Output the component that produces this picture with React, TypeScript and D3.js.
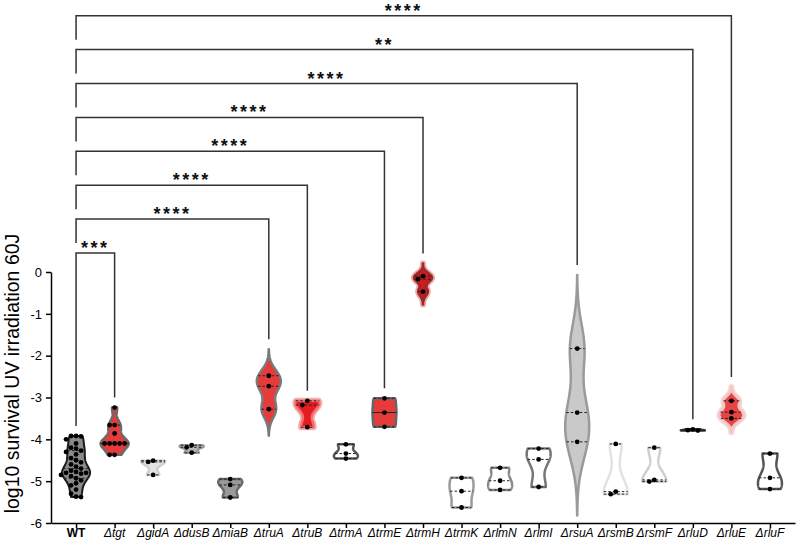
import * as d3 from "d3";
import { useEffect, useRef } from "react";

// strains on the x axis
const strains = ["WT", "tgt", "gidA", "dusB", "miaB", "truA", "truB", "trmA", "trmE", "trmH",
  "trmK", "rlmN", "rlmI", "rsuA", "rsmB", "rsmF", "rluD", "rluE", "rluF"];

// log10 survival values
const wt = [-3.92, -3.92, -3.93, -4.0, -4.1, -4.2, -4.22, -4.27, -4.3, -4.36, -4.45, -4.5, -4.55,
  -4.6, -4.65, -4.7, -4.75, -4.78, -4.8, -4.8, -4.82, -4.85, -4.88, -4.93, -4.98, -5.05, -5.1,
  -5.2, -5.3, -5.37, -5.38];
const tgt = [-3.24, -3.66, -3.66, -3.86, -4.1, -4.1, -4.1, -4.1, -4.1, -4.37, -4.37];
const gidA = [-4.51, -4.54, -4.85];
const dusB = [-4.14, -4.19, -4.32];
const miaB = [-4.95, -5.09, -5.39];
const truA = [-2.48, -2.73, -3.28];
const truB = [-3.08, -3.18, -3.71];
const trmA = [-4.12, -4.34, -4.46];
const trmE = [-3.02, -3.36, -3.7];
const trmH = [-0.1, -0.17, -0.47];
const trmK = [-4.92, -5.24, -5.63];
const rlmN = [-4.68, -4.99, -5.21];
const rlmI = [-4.22, -4.48, -5.14];
const rsuA = [-1.83, -3.36, -4.06];
const rsmB = [-4.11, -5.25, -5.31];
const rsmF = [-4.2, -4.97, -5.01];
const rluD = [-3.76, -3.78, -3.79];
const rluE = [-3.08, -3.35, -3.5];
const rluF = [-4.34, -4.92, -5.19];

const values = [wt, tgt, gidA, dusB, miaB, truA, truB, trmA, trmE, trmH, trmK, rlmN, rlmI,
  rsuA, rsmB, rsmF, rluD, rluE, rluF];

// violins whose density tails are not cut at the data range
const fullTails = ["truA", "trmH", "rsuA", "rluE"];

const yTicks = [0, -1, -2, -3, -4, -5, -6];

// comparisons against WT, bottom bracket first
const compared = ["tgt", "truA", "truB", "trmE", "trmH", "rsuA", "rluD", "rluE"];
const stars = ["***", "****", "****", "****", "****", "****", "**", "****"];

const fills: Record<string, string> = {
  WT: "#8a8a8a", tgt: "#e63b3b", gidA: "#e4e4e4", dusB: "#b8b8b8", miaB: "#9a9a9a",
  truA: "#e63b3b", truB: "#e41c22", trmA: "#ffffff", trmE: "#e63b3b", trmH: "#cc1c1c",
  trmK: "#ffffff", rlmN: "#ffffff", rlmI: "#ffffff", rsuA: "#c9c9c9", rsmB: "#ffffff",
  rsmF: "#ffffff", rluD: "#8a8a8a", rluE: "#e84444", rluF: "#ffffff",
};
const strokes: Record<string, string> = {
  WT: "#1a1a1a", tgt: "#6a6a6a", gidA: "#d0d0d0", dusB: "#9a9a9a", miaB: "#6a6a6a",
  truA: "#7a7a7a", truB: "#f07070", trmA: "#555555", trmE: "#666666", trmH: "#9a2a2a",
  trmK: "#9a9a9a", rlmN: "#8a8a8a", rlmI: "#777777", rsuA: "#9a9a9a", rsmB: "#e2e2e2",
  rsmF: "#cfcfcf", rluD: "#333333", rluE: "#f2c4c4", rluF: "#555555",
};
const halos: Record<string, string> = { trmH: "#f2a8a8", rluE: "#f6d6d6", truB: "#f6b0b0" };

type Violin = { lo: number; hi: number; h: number; vals: number[] };

function kde(v: Violin, t: number) {
  return d3.sum(v.vals, (x) => Math.exp(-0.5 * ((t - x) / v.h) ** 2));
}

function makeViolin(vals: number[], full: boolean): Violin {
  const sd = d3.deviation(vals) ?? 0;
  const h = Math.max(0.64 * sd * Math.pow(vals.length, -0.2), 0.005);
  const lo = (d3.min(vals) as number) - (full ? 3 * h : 0);
  const hi = (d3.max(vals) as number) + (full ? 3 * h : 0);
  return { lo, hi, h, vals };
}

// quartiles, (n+1)p method
function quantile(vals: number[], p: number) {
  const s = [...vals].sort(d3.ascending);
  const pos = p * (s.length + 1);
  if (pos <= 1) return s[0];
  if (pos >= s.length) return s[s.length - 1];
  const i = Math.floor(pos);
  return s[i - 1] + (pos - i) * (s[i] - s[i - 1]);
}

export default function App() {
  const svgRef = useRef<SVGSVGElement | null>(null);

  useEffect(() => {
    const svg = d3.select(svgRef.current);
    const width = 798;
    const height = 540;
    const margin = { top: 272, right: 3, bottom: 17, left: 51 };
    const font = "'Liberation Sans', Arial, sans-serif";

    svg.selectAll("*").remove();
    svg.attr("width", width).attr("height", height);

    const x = d3
      .scalePoint<string>()
      .domain(strains)
      .range([margin.left, width - margin.right])
      .padding(0.65);

    const y = d3
      .scaleLinear()
      .domain([-6, 0])
      .range([height - margin.bottom, margin.top]);

    const violins = strains.map((s, i) => makeViolin(values[i], fullTails.includes(s)));

    // violins
    strains.forEach((s, i) => {
      const v = violins[i];
      const cx = x(s) as number;
      const halfWidth = s === "WT" || s === "tgt" ? 14 : s === "trmH" ? 9 : 12;
      const steps = 90;
      const ys = d3.range(steps + 1).map((k) => v.lo + ((v.hi - v.lo) * k) / steps);
      const dens = ys.map((t) => kde(v, t));
      const m = d3.max(dens) as number;
      const w = (t: number) => (kde(v, t) / m) * halfWidth;
      const area = d3
        .area<number>()
        .x0((t) => cx - w(t))
        .x1((t) => cx + w(t))
        .y((t) => y(t));

      const g = svg.append("g");
      if (halos[s]) {
        g.append("path")
          .attr("d", area(ys))
          .attr("fill", "none")
          .attr("stroke", halos[s])
          .attr("stroke-width", 6)
          .attr("stroke-linejoin", "round");
      }
      g.append("path")
        .attr("d", area(ys))
        .attr("fill", fills[s])
        .attr("stroke", strokes[s])
        .attr("stroke-width", s === "WT" ? 2 : 2.5)
        .attr("stroke-linejoin", "round");

      // median and quartiles
      [0.25, 0.5, 0.75].forEach((p) => {
        const q = quantile(v.vals, p);
        g.append("line")
          .attr("x1", cx - w(q))
          .attr("x2", cx + w(q))
          .attr("y1", y(q))
          .attr("y2", y(q))
          .attr("stroke", "#222")
          .attr("stroke-width", 1)
          .attr("stroke-dasharray", s === "trmE" && p === 0.5 ? null : "2.5,2");
      });

      // points, spread sideways so they don't overlap
      const placed: [number, number][] = [];
      [...v.vals].sort(d3.descending).forEach((val) => {
        const py = y(val);
        for (let k = 0; k < 12; k++) {
          const off = (k % 2 === 0 ? 1 : -1) * Math.ceil(k / 2) * 5;
          const px = cx + off;
          if (placed.every(([ax, ay]) => Math.hypot(ax - px, ay - py) >= 4.6)) {
            placed.push([px, py]);
            break;
          }
        }
      });
      g.selectAll("circle")
        .data(placed)
        .enter()
        .append("circle")
        .attr("cx", (d) => d[0])
        .attr("cy", (d) => d[1])
        .attr("r", 2.4)
        .attr("fill", "#000");
    });

    // axes
    const yAxis = svg
      .append("g")
      .attr("transform", `translate(${margin.left},0)`)
      .call(
        d3
          .axisLeft(y)
          .tickValues(yTicks)
          .tickSize(5)
          .tickSizeOuter(0)
          .tickPadding(4)
          .tickFormat((d) => String(d))
      );
    yAxis.selectAll("path, line").attr("stroke", "#000").attr("stroke-width", 1.5);
    yAxis.selectAll("text").attr("font-family", font).attr("font-size", 13).attr("fill", "#000");

    const xAxis = svg
      .append("g")
      .attr("transform", `translate(0,${height - margin.bottom})`)
      .call(d3.axisBottom(x).tickSize(5).tickSizeOuter(0).tickFormat(() => ""));
    xAxis.selectAll("path, line").attr("stroke", "#000").attr("stroke-width", 1.5);

    svg
      .selectAll(".x-label")
      .data(strains)
      .enter()
      .append("text")
      .attr("class", "x-label")
      .attr("x", (d) => x(d) as number)
      .attr("y", height - 3)
      .attr("text-anchor", "middle")
      .attr("font-family", font)
      .attr("font-size", 12)
      .attr("font-weight", (d) => (d === "WT" ? "bold" : "normal"))
      .attr("font-style", (d) => (d === "WT" ? "normal" : "italic"))
      .attr("fill", "#000")
      .text((d) => (d === "WT" ? d : "\u0394" + d));

    svg
      .append("text")
      .attr("transform", `translate(19,${(margin.top + height - margin.bottom) / 2 - 24}) rotate(-90)`)
      .attr("text-anchor", "middle")
      .attr("font-family", font)
      .attr("font-size", 19.5)
      .attr("fill", "#000")
      .text("log10 survival UV irradiation 60J");

    // significance brackets
    const x0 = x("WT") as number;
    const wtTop = y(violins[0].hi) - 10;
    compared.forEach((s, i) => {
      const level = 253 - i * 33.9;
      const xt = x(s) as number;
      const vt = violins[strains.indexOf(s)];
      const right = y(vt.hi) - 10;
      const left = i === 0 ? wtTop : level + 24;
      svg
        .append("path")
        .attr("d", `M${x0},${left}V${level}H${xt}V${right}`)
        .attr("fill", "none")
        .attr("stroke", "#333")
        .attr("stroke-width", 1.5);
      svg
        .append("text")
        .attr("x", (x0 + xt) / 2)
        .attr("y", level + 1)
        .attr("text-anchor", "middle")
        .attr("font-family", font)
        .attr("font-size", 18)
        .attr("font-weight", "bold")
        .attr("letter-spacing", 2.5)
        .attr("fill", "#111")
        .text(stars[i]);
    });
  }, []);

  return <svg ref={svgRef} style={{ position: "absolute", left: 0, top: 0 }}></svg>;
}
